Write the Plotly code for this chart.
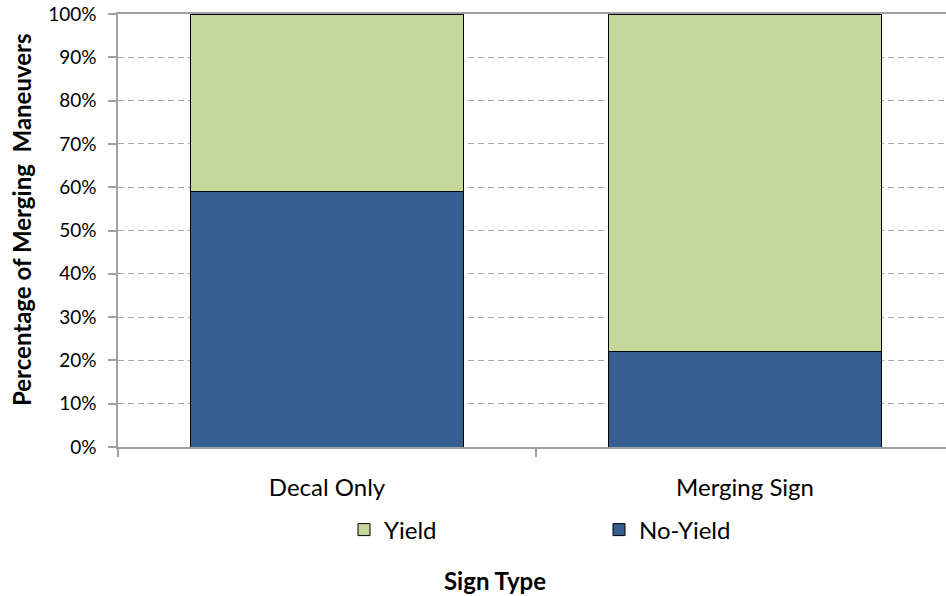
import plotly.graph_objects as go

categories = ["Decal Only", "Merging Sign"]
no_yield = [59, 22]
yield_vals = [41, 78]
y_ticks = [0, 10, 20, 30, 40, 50, 60, 70, 80, 90, 100]
y_tick_labels = [f"{v}%" for v in y_ticks]

FONT = "Lato"
W, H = 946, 596
L, R, T, B = 118, 0, 14, 596 - 447
pw = W - L - R
ph = H - T - B

def px_x(x):
    return (x - L) / pw

def px_y(y):
    return (H - B - y) / ph

fig = go.Figure()
fig.add_trace(go.Bar(
    x=categories, y=no_yield, name="No-Yield",
    marker=dict(color="#365F91", line=dict(color="#000000", width=1)),
    width=0.655,
))
fig.add_trace(go.Bar(
    x=categories, y=yield_vals, name="Yield",
    marker=dict(color="#C4D79B", line=dict(color="#000000", width=1)),
    width=0.655,
))

fig.update_layout(
    width=W, height=H,
    margin=dict(l=L, r=R, t=T, b=B, autoexpand=False),
    barmode="stack",
    plot_bgcolor="white", paper_bgcolor="white",
    font=dict(family=FONT, color="#000000"),
    showlegend=True,
    legend=dict(
        orientation="h", traceorder="reversed",
        x=px_x(344), xanchor="left",
        y=px_y(530), yanchor="middle",
        entrywidth=210, entrywidthmode="pixels",
        font=dict(family=FONT, size=24, color="#000000"),
        itemwidth=30,
    ),
    xaxis=dict(
        range=[-0.5, -0.5 + pw / 418],
        showline=True, linecolor="#A0A0A0", linewidth=1.5, mirror=True,
        ticks="outside", ticklen=8, tickcolor="#A0A0A0", tickwidth=1.5,
        tickson="boundaries",
        tickfont=dict(family=FONT, size=24, color="#000000"),
        showgrid=False,
        ticklabelstandoff=18,
    ),
    yaxis=dict(
        range=[0, 100],
        tickvals=y_ticks, ticktext=y_tick_labels,
        showline=True, linecolor="#A0A0A0", linewidth=1.5,
        ticks="outside", ticklen=8, tickcolor="#A0A0A0", tickwidth=1.5,
        showgrid=True, gridcolor="#A6A6A6", griddash="6px,4px", gridwidth=1,
        tickfont=dict(family=FONT, size=19, color="#000000"),
        ticklabelstandoff=8,
        ticklabeloverflow="allow",
        zeroline=False,
    ),
    annotations=[
        dict(text="<b>Sign Type</b>", x=px_x(495), y=px_y(580),
             xref="paper", yref="paper", showarrow=False,
             font=dict(family=FONT, size=24, color="#000000"),
             xanchor="center", yanchor="middle"),
        dict(text="<b>Percentage of Merging  Maneuvers</b>", x=px_x(22), y=px_y(220),
             xref="paper", yref="paper", showarrow=False, textangle=-90,
             font=dict(family=FONT, size=24, color="#000000"),
             xanchor="center", yanchor="middle"),
    ],
)

fig.write_html(
    "out.html",
    config={"displayModeBar": False},
    post_script="document.body.style.margin='0';document.body.style.overflow='hidden';",
)
